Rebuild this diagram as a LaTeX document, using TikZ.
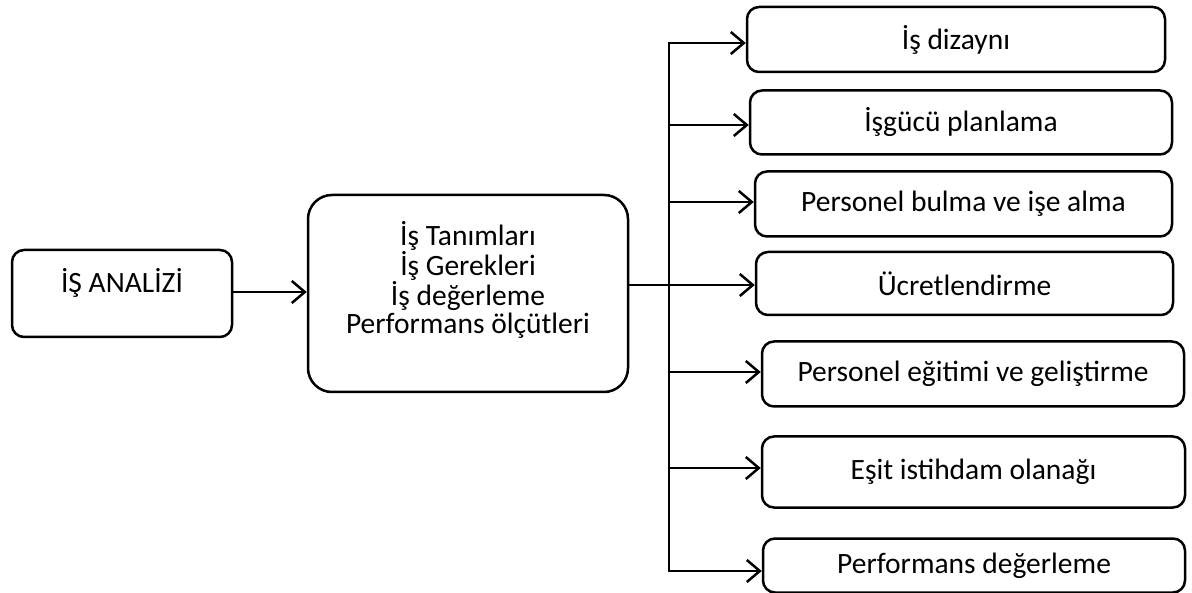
\documentclass[tikz,border=0pt]{standalone}
\usepackage{fontspec}
\setmainfont{Carlito}
\usetikzlibrary{arrows.meta}
\begin{document}
\begin{tikzpicture}[x=1pt,y=-1pt,
  box/.style={draw=black, line width=2.5pt, rounded corners=12pt, inner sep=0pt,
    font=\fontsize{29.5}{28}\selectfont, align=center},
  lbl/.style={font=\fontsize{29.5}{28}\selectfont, align=center, inner sep=0pt},
  conn/.style={line width=2.5pt},
  arr/.style={conn, -{Straight Barb[length=13pt,width=22pt,line width=2.5pt]}}]
\useasboundingbox (0,0) rectangle (1192,593);
% left box
\node[box, minimum width=220pt, minimum height=87pt] (analiz) at (122,293.5) {};
\node[lbl] (analiztxt) at (122,283) {İŞ ANALİZİ};
% middle box
\node[box, rounded corners=24pt, minimum width=320pt, minimum height=197pt] (mid) at (468,293.5) {};
\node[lbl] (midtxt) at (468,280) {İş Tanımları\\İş Gerekleri\\İş değerleme\\Performans ölçütleri};
% right boxes
\node[box, minimum width=418pt, minimum height=65pt] (b1) at (956,39.5) {İş dizaynı};
\node[box, minimum width=422pt, minimum height=64pt] (b2) at (961,122.5) {İşgücü planlama};
\node[box, minimum width=417pt, minimum height=65pt] (b3) at (963.5,204) {Personel bulma ve işe alma};
\node[box, minimum width=417pt, minimum height=63pt] (b4) at (964.5,283.5) {Ücretlendirme};
\node[box, minimum width=422pt, minimum height=65pt] (b5) at (973,374) {Personel eğitimi ve geliştirme};
\node[box, minimum width=423pt, minimum height=71pt] (b6) at (973.5,472) {Eşit istihdam olanağı};
\node[box, minimum width=422pt, minimum height=54pt] (b7) at (974,565.5) {Performans değerleme};
% bus coordinates
\coordinate (t1) at (669,43);
\coordinate (t2) at (669,125);
\coordinate (t3) at (669,202);
\coordinate (t4) at (669,285);
\coordinate (t5) at (669,372);
\coordinate (t6) at (669,468);
\coordinate (t7) at (669,571);
% connectors
\draw[arr] (analiz.east |- analiz.center) ++(0,-1.5) coordinate (a0) -- (a0 -| mid.west);
\draw[conn, line cap=rect] (t1) -- (t7);
\draw[arr] (mid.east |- t4) -- (t4 -| b4.west);
\draw[arr] (t1) -- (t1 -| b1.west);
\draw[arr] (t2) -- (t2 -| b2.west);
\draw[arr] (t3) -- (t3 -| b3.west);
\draw[arr] (t5) -- (t5 -| b5.west);
\draw[arr] (t6) -- (t6 -| b6.west);
\draw[arr] (t7) -- (t7 -| b7.west);
\end{tikzpicture}
\end{document}
